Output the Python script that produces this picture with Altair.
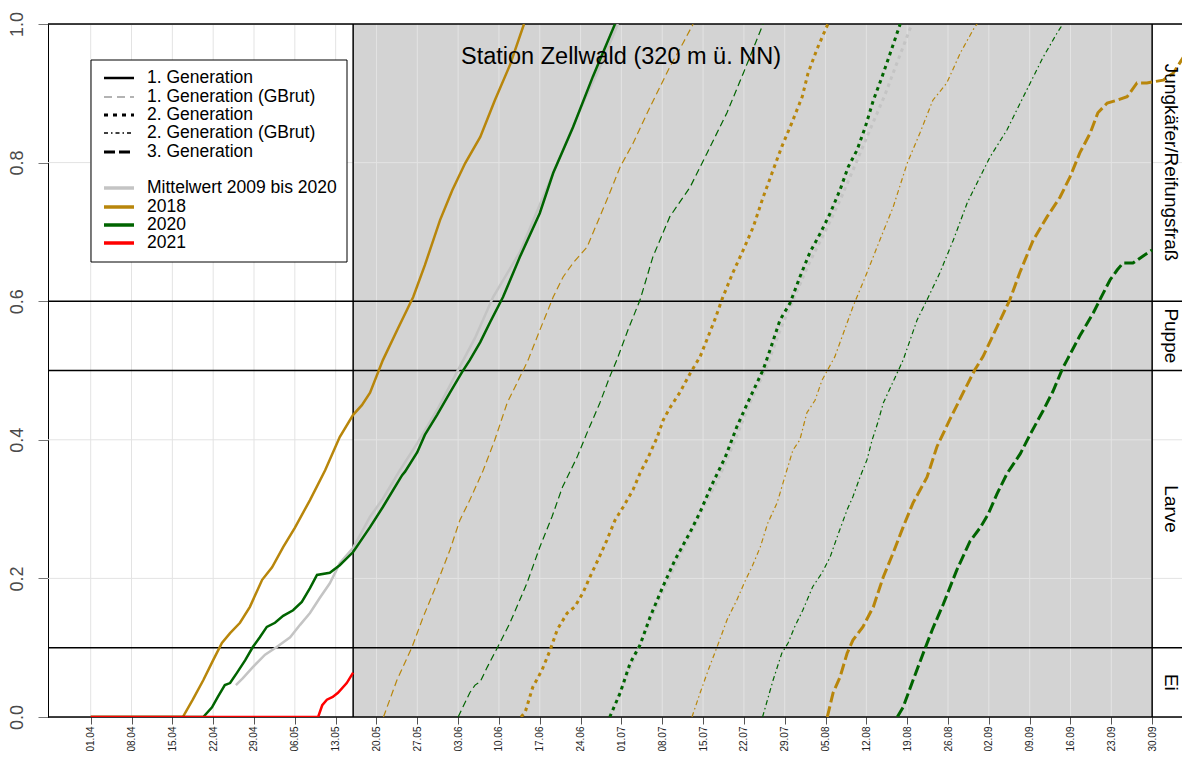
import altair as alt
import pandas as pd

# ---------------- data (x = days after 01.04, y = share of development) ----------------
tick_labels = ["01.04", "08.04", "15.04", "22.04", "29.04", "06.05", "13.05", "20.05", "27.05",
               "03.06", "10.06", "17.06", "24.06", "01.07", "08.07", "15.07", "22.07", "29.07",
               "05.08", "12.08", "19.08", "26.08", "02.09", "09.09", "16.09", "23.09", "30.09"]
tick_days = [7 * i for i in range(len(tick_labels))]
y_ticks = [0.0, 0.2, 0.4, 0.6, 0.8, 1.0]
grid_y = [0.2, 0.4, 0.8]
stage_bounds = [0.0, 0.1, 0.5, 0.6, 1.0]
stage_names = ["Ei", "Larve", "Puppe", "Jungkäfer/Reifungsfraß"]
period_start = [45]
period_end = [182]
station_title = "Station Zellwald (320 m ü. NN)"

# 1. Generation
g1_2018_day = [0, 15.8, 17.5, 19.3, 21.0, 22.5, 23.9, 25.6, 27.3, 29.4, 31.1, 33.0, 35.0, 37.6, 40.2,
               42.7, 45.0, 46.5, 47.9, 50.1, 52.7, 55.3, 57.3, 59.9, 62.0, 64.2, 66.8, 69.3, 71.9, 74.3]
g1_2018_val = [0, 0, 0.025, 0.053, 0.082, 0.107, 0.121, 0.136, 0.159, 0.198, 0.216, 0.245, 0.273, 0.313,
               0.356, 0.404, 0.436, 0.45, 0.468, 0.515, 0.561, 0.606, 0.652, 0.717, 0.760, 0.799, 0.837,
               0.890, 0.941, 1.0]

g1_2020_day = [0, 19.3, 20.8, 21.8, 23.0, 23.9, 25.1, 26.5, 27.8, 29.0, 30.2, 31.6, 33.0, 34.7, 36.2,
               37.6, 38.8, 41.0, 42.7, 45.0, 47.9, 50.1, 53.4, 53.9, 56.0, 57.3, 59.4, 61.6, 63.7, 65.0,
               66.8, 68.5, 70.7, 73.6, 77.0, 79.3, 82.7, 86.1, 89.9]
g1_2020_val = [0, 0, 0.014, 0.029, 0.046, 0.049, 0.064, 0.082, 0.101, 0.115, 0.130, 0.136, 0.146, 0.154,
               0.166, 0.186, 0.205, 0.208, 0.219, 0.238, 0.274, 0.303, 0.349, 0.354, 0.382, 0.407, 0.436,
               0.468, 0.498, 0.515, 0.541, 0.570, 0.606, 0.664, 0.727, 0.785, 0.851, 0.924, 1.0]

g1_mean_day = [24.9, 26.1, 27.8, 29.9, 31.9, 34.2, 35.9, 37.6, 39.3, 41.0, 41.9, 42.7, 45.0, 47.9, 50.1,
               53.0, 56.0, 59.4, 63.0, 65.9, 69.0, 73.6, 79.3, 83.9, 87.3, 90.4]
g1_mean_val = [0.046, 0.056, 0.072, 0.090, 0.101, 0.115, 0.133, 0.150, 0.172, 0.193, 0.208, 0.222, 0.244,
               0.289, 0.315, 0.356, 0.395, 0.443, 0.501, 0.547, 0.606, 0.671, 0.785, 0.876, 0.938, 1.0]

g1_2021_day = [0, 39.0, 39.7, 40.5, 41.5, 42.4, 43.9, 45.0]
g1_2021_val = [0, 0, 0.017, 0.025, 0.029, 0.035, 0.049, 0.064]

# 1. Generation (GBrut)
g1b_2018_day = [50.2, 52.5, 55.1, 57.0, 59.4, 61.6, 63.3, 65.0, 67.3, 69.3, 71.4, 73.1, 75.0, 77.0, 79.3,
                81.0, 82.7, 85.1, 88.5, 90.8, 93.0, 95.9, 99.3, 101.6, 103.3]
g1b_2018_val = [0, 0.053, 0.101, 0.144, 0.193, 0.241, 0.284, 0.313, 0.356, 0.400, 0.453, 0.482, 0.515,
                0.558, 0.606, 0.635, 0.655, 0.678, 0.746, 0.794, 0.828, 0.880, 0.938, 0.973, 1.0]

g1b_2020_day = [63.0, 65.0, 65.9, 66.8, 68.0, 69.8, 71.9, 74.8, 77.0, 79.1, 80.9, 83.4, 85.1, 87.3, 89.0,
                90.2, 92.1, 94.2, 96.4, 99.3, 102.8, 105.7, 109.1, 111.9, 115.3]
g1b_2020_val = [0, 0.035, 0.046, 0.051, 0.072, 0.101, 0.136, 0.193, 0.245, 0.289, 0.332, 0.375, 0.410,
                0.453, 0.491, 0.515, 0.558, 0.602, 0.664, 0.722, 0.765, 0.814, 0.872, 0.929, 1.0]

# 2. Generation
g2_2018_day = [73.8, 74.5, 75.8, 77.4, 78.8, 80.0, 81.7, 83.0, 84.4, 85.6, 87.0, 88.5, 89.9, 91.3, 93.0,
               94.2, 95.6, 97.1, 98.2, 99.3, 101.0, 102.8, 104.5, 107.0, 108.4, 110.1, 111.9, 113.6,
               115.3, 117.0, 118.5, 120.2, 122.0, 123.0, 124.5, 126.4]
g2_2018_val = [0, 0.007, 0.043, 0.068, 0.097, 0.126, 0.150, 0.159, 0.179, 0.202, 0.227, 0.255, 0.284,
               0.303, 0.328, 0.352, 0.375, 0.403, 0.429, 0.446, 0.468, 0.496, 0.520, 0.573, 0.606, 0.641,
               0.674, 0.707, 0.750, 0.789, 0.823, 0.857, 0.895, 0.929, 0.963, 1.0]

g2_2020_day = [89.0, 90.8, 92.5, 94.2, 95.9, 98.1, 100.2, 102.8, 104.5, 106.5, 108.8, 110.8, 113.0, 115.3,
               116.5, 118.2, 119.9, 121.6, 123.3, 125.1, 126.8, 128.5, 129.9, 131.4, 132.8, 134.2, 135.7,
               137.1, 138.8]
g2_2020_val = [0, 0.035, 0.078, 0.104, 0.144, 0.188, 0.227, 0.267, 0.296, 0.335, 0.375, 0.419, 0.460,
               0.501, 0.530, 0.573, 0.597, 0.635, 0.670, 0.698, 0.727, 0.761, 0.794, 0.818, 0.851, 0.890,
               0.924, 0.958, 1.0]

g2_mean_day = [90.4, 92.5, 95.0, 97.6, 100.2, 102.8, 105.3, 107.9, 110.5, 113.0, 115.9, 118.2, 120.8,
               123.3, 125.9, 128.5, 131.1, 133.6, 136.2, 138.3, 140.8]
g2_mean_val = [0.029, 0.071, 0.121, 0.172, 0.219, 0.263, 0.306, 0.349, 0.400, 0.453, 0.505, 0.558, 0.609,
               0.657, 0.700, 0.746, 0.797, 0.847, 0.898, 0.945, 1.0]

# 2. Generation (GBrut)
g2b_2018_day = [103.1, 104.5, 105.9, 107.4, 109.1, 110.8, 112.2, 113.4, 114.8, 116.1, 117.7, 119.0, 120.4,
                121.6, 122.8, 124.2, 125.4, 127.6, 130.7, 133.1, 135.3, 137.6, 140.0, 142.2, 144.4, 146.8,
                149.1, 151.6, 152.0]
g2b_2018_val = [0, 0.035, 0.068, 0.101, 0.140, 0.169, 0.196, 0.217, 0.245, 0.280, 0.309, 0.346, 0.385,
                0.400, 0.439, 0.457, 0.486, 0.520, 0.592, 0.641, 0.688, 0.736, 0.799, 0.843, 0.890, 0.915,
                0.958, 0.996, 1.0]

g2b_2020_day = [115.2, 117.0, 118.5, 119.6, 120.7, 122.1, 123.8, 125.4, 126.8, 128.0, 129.7, 130.7, 131.9,
                133.1, 134.0, 135.0, 135.9, 139.3, 141.7, 143.4, 145.6, 147.9, 150.3, 152.0, 154.2, 157.1,
                158.8, 161.1, 163.3, 165.7, 166.7]
g2b_2020_val = [0, 0.053, 0.092, 0.107, 0.130, 0.154, 0.188, 0.208, 0.231, 0.260, 0.299, 0.318, 0.346,
                0.371, 0.400, 0.426, 0.453, 0.515, 0.573, 0.602, 0.641, 0.688, 0.742, 0.771, 0.808, 0.847,
                0.876, 0.915, 0.952, 0.987, 1.0]

# 3. Generation
g3_2018_day = [126.3, 127.3, 128.5, 129.7, 130.7, 132.4, 134.2, 135.9, 137.6, 139.3, 141.0, 143.4, 145.1,
               147.3, 149.6, 151.6, 153.0, 155.4, 157.6, 159.3, 161.6, 164.0, 166.2, 167.9, 169.6, 171.4,
               172.7, 174.3, 176.0, 177.7, 179.4, 181.1, 183.9, 185.6, 188.5]
g3_2018_val = [0, 0.035, 0.058, 0.092, 0.111, 0.130, 0.159, 0.202, 0.237, 0.274, 0.309, 0.346, 0.390,
               0.429, 0.468, 0.501, 0.520, 0.563, 0.602, 0.641, 0.688, 0.722, 0.750, 0.779, 0.814, 0.843,
               0.872, 0.886, 0.890, 0.895, 0.915, 0.915, 0.919, 0.929, 0.967]

g3_2020_day = [138.3, 139.3, 141.0, 142.7, 144.4, 146.2, 148.5, 150.8, 152.5, 153.9, 155.4, 157.1, 159.4,
               161.1, 163.3, 165.0, 166.7, 167.4, 169.6, 171.9, 173.4, 174.8, 176.0, 177.0, 178.7, 180.4,
               182.0]
g3_2020_val = [0, 0.014, 0.053, 0.091, 0.128, 0.163, 0.212, 0.254, 0.273, 0.293, 0.322, 0.351, 0.380,
               0.408, 0.442, 0.470, 0.504, 0.515, 0.550, 0.583, 0.608, 0.631, 0.645, 0.655, 0.655, 0.665,
               0.674]

legend_labels = ["1. Generation", "1. Generation (GBrut)", "2. Generation", "2. Generation (GBrut)",
                 "3. Generation", "Mittelwert 2009 bis 2020", "2018", "2020", "2021"]

# ---------------- styling ----------------
FONT = "Liberation Sans"
C_2018 = "#B8860B"
C_2020 = "#006400"
C_2021 = "#FF0000"
C_MEAN = "#C4C4C4"
SOLID = dict(strokeWidth=2.5)
GBRUT1 = dict(strokeWidth=1.2, strokeDash=[7, 4])
GEN2 = dict(strokeWidth=3, strokeDash=[3.5, 4])
GBRUT2 = dict(strokeWidth=1.2, strokeDash=[5, 3, 1.5, 3])
GEN3 = dict(strokeWidth=3, strokeDash=[11, 4])

W, H = 1134, 693
xs = alt.Scale(domain=[-7.32, 187.12], nice=False, zero=False)
ys = alt.Scale(domain=[0, 1], nice=False, zero=False)

label_array = "[" + ",".join("'" + t + "'" for t in tick_labels) + "]"
x_axis = alt.Axis(values=tick_days, labelExpr=label_array + "[round(datum.value / 7)]",
                  labelAngle=270, labelAlign="right", labelBaseline="middle", labelFontSize=10,
                  labelFont=FONT, labelPadding=2, tickSize=7, tickColor="#555555",
                  labelColor="#222222", domain=False, grid=False, title=None,
                  labelOverlap=False, labelFlush=False)
y_axis = alt.Axis(values=y_ticks, format=".1f", labelAngle=270, labelAlign="center",
                  labelBaseline="bottom", labelFontSize=18, labelFont=FONT, labelPadding=12,
                  tickSize=10, tickColor="#777777", labelColor="#4a4a4a", domain=True,
                  domainColor="black", domainWidth=1, grid=False, title=None,
                  labelOverlap=False, labelFlush=False)


def X(field):
    return alt.X(field, type="quantitative", scale=xs, axis=x_axis)


def Y(field):
    return alt.Y(field, type="quantitative", scale=ys, axis=y_axis)


one = pd.DataFrame({"k": [0]})

layers = []

# shaded period
layers.append(
    alt.Chart(pd.DataFrame({"s": period_start, "e": period_end, "y0": [0.0], "y1": [1.0]}))
    .mark_rect(color="#D3D3D3")
    .encode(x=X("s"), x2="e", y=Y("y0"), y2="y1")
)
# grid
layers.append(
    alt.Chart(pd.DataFrame({"d": tick_days})).mark_rule(color="#E3E3E3", strokeWidth=1)
    .encode(x=X("d"))
)
layers.append(
    alt.Chart(pd.DataFrame({"g": grid_y})).mark_rule(color="#E3E3E3", strokeWidth=1)
    .encode(y=Y("g"))
)
# stage boundaries and frame
layers.append(
    alt.Chart(pd.DataFrame({"b": stage_bounds})).mark_rule(color="black", strokeWidth=1.5)
    .encode(y=Y("b"))
)
layers.append(
    alt.Chart(pd.DataFrame({"v": period_start + period_end})).mark_rule(color="black", strokeWidth=1.5)
    .encode(x=X("v"))
)


def line(days, vals, color, style):
    df = pd.DataFrame({"day": days, "value": vals})
    return alt.Chart(df).mark_line(color=color, clip=True, strokeCap="butt", **style).encode(
        x=X("day"), y=Y("value"))


layers += [
    line(g1_mean_day, g1_mean_val, C_MEAN, SOLID),
    line(g2_mean_day, g2_mean_val, C_MEAN, GEN2),
    line(g1_2018_day, g1_2018_val, C_2018, SOLID),
    line(g1b_2018_day, g1b_2018_val, C_2018, GBRUT1),
    line(g2_2018_day, g2_2018_val, C_2018, GEN2),
    line(g2b_2018_day, g2b_2018_val, C_2018, GBRUT2),
    line(g3_2018_day, g3_2018_val, C_2018, GEN3),
    line(g1_2020_day, g1_2020_val, C_2020, SOLID),
    line(g1b_2020_day, g1b_2020_val, C_2020, GBRUT1),
    line(g2_2020_day, g2_2020_val, C_2020, GEN2),
    line(g2b_2020_day, g2b_2020_val, C_2020, GBRUT2),
    line(g3_2020_day, g3_2020_val, C_2020, GEN3),
    line(g1_2021_day, g1_2021_val, C_2021, SOLID),
]

# stage labels on the right
stage_df = pd.DataFrame({
    "name": stage_names,
    "mid": [(stage_bounds[i] + stage_bounds[i + 1]) / 2 for i in range(len(stage_names))],
})
layers.append(
    alt.Chart(stage_df).mark_text(angle=90, fontSize=19, font=FONT, color="black",
                                  align="center", baseline="middle")
    .encode(x=alt.value(1123), y=Y("mid"), text="name:N")
)

# station title
layers.append(
    alt.Chart(one).mark_text(text=station_title, fontSize=23.5, font=FONT, color="black",
                             align="center", baseline="middle")
    .encode(x=alt.value(573), y=alt.value(33))
)

# legend (drawn by hand)
layers.append(
    alt.Chart(one).mark_rect(fill="white", stroke="black", strokeWidth=1)
    .encode(x=alt.value(43), x2=alt.value(299), y=alt.value(36), y2=alt.value(238))
)
legend_styles = [
    ("black", dict(strokeWidth=2.5)),
    ("#9A9A9A", dict(strokeWidth=1.6, strokeDash=[8, 5])),
    ("black", dict(strokeWidth=3, strokeDash=[4, 5])),
    ("black", dict(strokeWidth=1.4, strokeDash=[4, 3, 1.5, 3])),
    ("black", dict(strokeWidth=3, strokeDash=[11, 4])),
    (C_MEAN, dict(strokeWidth=3.5)),
    (C_2018, dict(strokeWidth=3.5)),
    (C_2020, dict(strokeWidth=3.5)),
    (C_2021, dict(strokeWidth=3.5)),
]
legend_rows = [54, 73, 91, 109, 128, 164, 183, 201, 219]
for (col, st), yrow, lab in zip(legend_styles, legend_rows, legend_labels):
    layers.append(
        alt.Chart(one).mark_rule(color=col, strokeCap="butt", **st)
        .encode(x=alt.value(56), x2=alt.value(86), y=alt.value(yrow))
    )
    layers.append(
        alt.Chart(one).mark_text(text=lab, fontSize=17.5, font=FONT, color="black",
                                 align="left", baseline="middle")
        .encode(x=alt.value(99), y=alt.value(yrow))
    )

chart = (
    alt.layer(*layers)
    .properties(width=W, height=H,
                padding={"left": 40, "top": 16, "right": 0, "bottom": 36},
                autosize=alt.AutoSizeParams(type="none"),
                background="white")
    .configure_view(stroke="transparent")
    .configure(font=FONT)
)

chart.save("out.html", embed_options={"renderer": "svg", "actions": False})
